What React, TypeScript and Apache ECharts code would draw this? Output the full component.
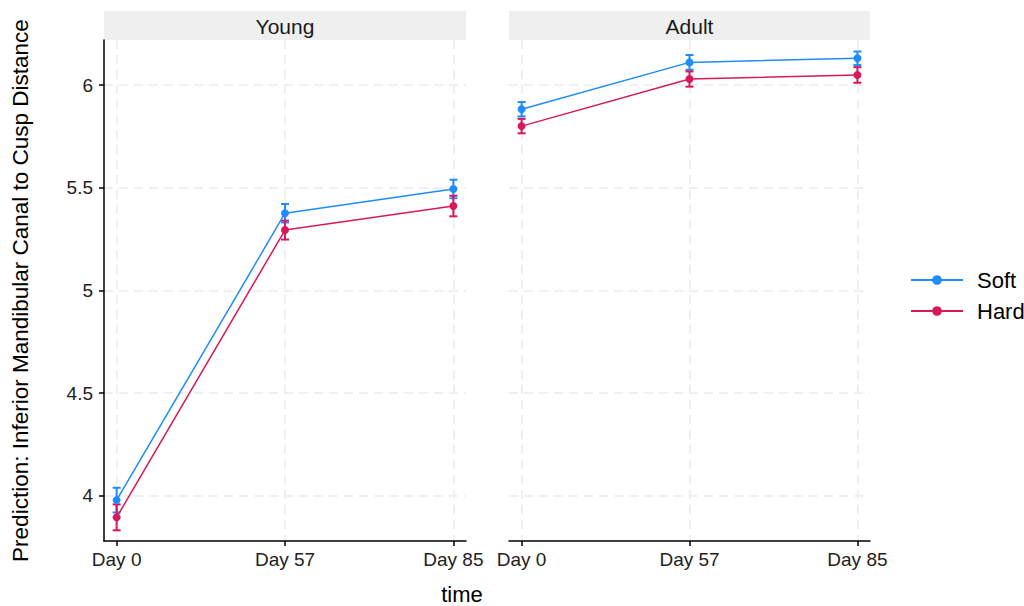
import React, { useEffect, useRef } from "react";
import * as echarts from "echarts";

const categories = ["Day 0", "Day 57", "Day 85"];
const panels = ["Young", "Adult"];
const groups = ["Soft", "Hard"];
const colors = ["#1E8CFF", "#D6195B"];

const youngSoft = [3.98, 5.376, 5.494];
const youngSoftSE = [0.06, 0.045, 0.045];
const youngHard = [3.896, 5.294, 5.411];
const youngHardSE = [0.063, 0.046, 0.05];
const adultSoft = [5.882, 6.11, 6.13];
const adultSoftSE = [0.035, 0.036, 0.033];
const adultHard = [5.8, 6.029, 6.049];
const adultHardSE = [0.035, 0.037, 0.038];

const yTicks = [4, 4.5, 5, 5.5, 6];
const xTicks = [0, 1, 2];

const FONT = "'Liberation Sans', Arial, Helvetica, sans-serif";

const panelValues = [
  [youngSoft, youngHard],
  [adultSoft, adultHard],
];
const panelSE = [
  [youngSoftSE, youngHardSE],
  [adultSoftSE, adultHardSE],
];

const gridBoxes = [
  { left: 104, right: 1024 - 466, top: 40, bottom: 606 - 541 },
  { left: 509, right: 1024 - 870, top: 40, bottom: 606 - 541 },
];

export default function App() {
  const ref = useRef<HTMLDivElement>(null);

  useEffect(() => {
    if (!ref.current) return;
    const chart = echarts.init(ref.current, null, { renderer: "svg" });

    const splitLine = {
      show: true,
      lineStyle: { color: "#EBEBEB", width: 1.5, type: [9, 6] as any },
    };

    const xAxes = gridBoxes.map((_, gi) => ({
      type: "value",
      gridIndex: gi,
      min: -0.075,
      max: 2.075,
      axisLine: { show: true, onZero: false, lineStyle: { color: "#000", width: 1.5 } },
      axisTick: { show: true, customValues: xTicks, length: 5, lineStyle: { color: "#000", width: 1.5 } },
      axisLabel: {
        show: true,
        customValues: xTicks,
        formatter: (v: number) => categories[Math.round(v)],
        fontSize: 19,
        color: "#222",
        margin: 9,
        fontFamily: FONT,
      },
      splitLine,
    }));

    const yAxes = gridBoxes.map((_, gi) => ({
      type: "value",
      gridIndex: gi,
      min: 3.781,
      max: 6.219,
      name: gi === 0 ? "Prediction: Inferior Mandibular Canal to Cusp Distance" : "",
      nameLocation: "middle",
      nameGap: 72,
      nameTextStyle: { fontSize: 22.5, color: "#000", fontFamily: FONT },
      axisLine: { show: gi === 0, onZero: false, lineStyle: { color: "#000", width: 1.5 } },
      axisTick: { show: gi === 0, customValues: yTicks, length: 5, lineStyle: { color: "#000", width: 1.5 } },
      axisLabel: {
        show: gi === 0,
        customValues: yTicks,
        fontSize: 19,
        color: "#222",
        margin: 11,
        fontFamily: FONT,
      },
      splitLine,
    }));

    const series: any[] = [];
    panels.forEach((_, pi) => {
      groups.forEach((g, gi) => {
        const vals = panelValues[pi][gi];
        const se = panelSE[pi][gi];
        const color = colors[gi];
        series.push({
          type: "custom",
          name: g + " error",
          xAxisIndex: pi,
          yAxisIndex: pi,
          z: 2,
          data: vals.map((v, i) => [i, v - se[i], v + se[i]]),
          encode: { x: 0, y: [1, 2] },
          renderItem: (params: any, api: any) => {
            const lo = api.coord([api.value(0), api.value(1)]);
            const hi = api.coord([api.value(0), api.value(2)]);
            const w = 4;
            const st = { stroke: color, lineWidth: 2 };
            return {
              type: "group",
              children: [
                { type: "line", shape: { x1: lo[0], y1: lo[1], x2: hi[0], y2: hi[1] }, style: st },
                { type: "line", shape: { x1: lo[0] - w, y1: lo[1], x2: lo[0] + w, y2: lo[1] }, style: st },
                { type: "line", shape: { x1: hi[0] - w, y1: hi[1], x2: hi[0] + w, y2: hi[1] }, style: st },
              ],
            };
          },
        });
        series.push({
          type: "line",
          name: g,
          xAxisIndex: pi,
          yAxisIndex: pi,
          z: 3,
          data: vals.map((v, i) => [i, v]),
          symbol: "circle",
          symbolSize: 8,
          showSymbol: true,
          lineStyle: { color, width: 1.5 },
          itemStyle: { color },
        });
      });
    });

    const graphic: any[] = [];
    panels.forEach((p, pi) => {
      const b = gridBoxes[pi];
      const x0 = b.left;
      const x1 = 1024 - b.right;
      graphic.push({
        type: "rect",
        shape: { x: x0, y: 11, width: x1 - x0, height: 29 },
        style: { fill: "#EFEFEF" },
        silent: true,
      });
      graphic.push({
        type: "text",
        x: (x0 + x1) / 2,
        y: 26,
        style: {
          text: p,
          fontSize: 21,
          fontFamily: FONT,
          fill: "#1a1a1a",
          align: "center",
          verticalAlign: "middle",
        },
        silent: true,
      });
    });
    graphic.push({
      type: "text",
      x: 462,
      y: 594,
      style: {
        text: "time",
        fontSize: 22,
        fontFamily: FONT,
        fill: "#000",
        align: "center",
        verticalAlign: "middle",
      },
      silent: true,
    });

    chart.setOption({
      animation: false,
      backgroundColor: "#fff",
      textStyle: { fontFamily: FONT },
      grid: gridBoxes.map((b) => ({ ...b, containLabel: false })),
      xAxis: xAxes,
      yAxis: yAxes,
      legend: {
        data: groups,
        orient: "vertical",
        left: 910,
        top: 269,
        padding: 0,
        itemWidth: 52,
        itemHeight: 12,
        itemGap: 9,
        textStyle: { fontSize: 22, color: "#000", fontFamily: FONT, padding: [0, 0, 0, 9] },
      },
      graphic,
      series,
    });

    return () => chart.dispose();
  }, []);

  return (
    <div
      ref={ref}
      style={{ position: "fixed", left: 0, top: 0, width: 1024, height: 606 }}
    />
  );
}
